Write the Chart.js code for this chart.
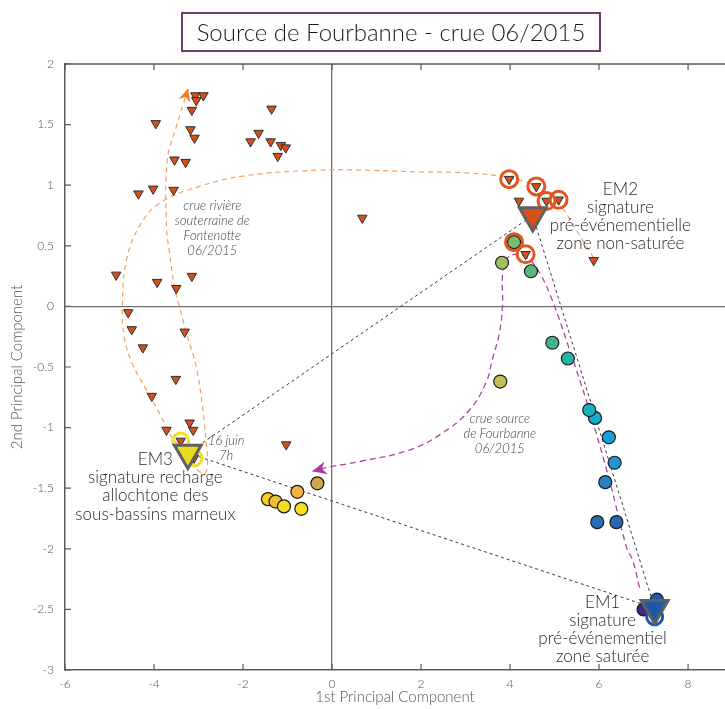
<!DOCTYPE html>
<html>
<head>
<meta charset="utf-8">
<title>Source de Fourbanne - crue 06/2015</title>
<script src="https://cdn.jsdelivr.net/npm/chart.js@4.4.0/dist/chart.umd.min.js"></script>
<style>
  html, body { margin: 0; padding: 0; background: #fff; }
</style>
</head>
<body>
<canvas id="pcaChart" width="725" height="709"></canvas>
<script>
// ---------- axes ----------
const xTicks = [-6, -4, -2, 0, 2, 4, 6, 8];
const yTicks = [-3, -2.5, -2, -1.5, -1, -0.5, 0, 0.5, 1, 1.5, 2];
const xRange = [-6, 8.83];
const yRange = [-3, 2];

// ---------- Fontenotte samples (small triangles) ----------
const fontenotteX = [-3.07, -2.89, -3.05, -3.15, -3.96, -3.18, -3.09, -1.36, -1.65, -1.83, -1.38, -1.15, -1.04, -1.22,
  -3.54, -3.29, -4.02, -4.35, -3.56, -4.85, -3.93, -3.50, -3.15, -4.58, -4.50, -3.31, -4.25, -3.51, -4.05, -3.72,
  -3.20, -3.12, -3.40, -3.10, -1.03, 0.68, 4.20, 3.98, 4.59, 4.82, 5.09, 4.35, 5.88];
const fontenotteY = [1.74, 1.74, 1.70, 1.62, 1.51, 1.46, 1.39, 1.63, 1.43, 1.36, 1.36, 1.33, 1.31, 1.24,
  1.21, 1.19, 0.97, 0.93, 0.96, 0.26, 0.20, 0.15, 0.25, -0.05, -0.19, -0.21, -0.34, -0.60, -0.74, -1.02,
  -0.96, -1.02, -1.11, -1.25, -1.14, 0.73, 0.87, 1.05, 0.99, 0.87, 0.88, 0.43, 0.38];

// ---------- Fourbanne samples (circles) ----------
const fourbanneX = [7.00, 7.30, 5.96, 6.39, 6.14, 6.35, 6.22, 5.91, 5.78, 5.30, 4.95, 4.47, 4.09, 3.82, 3.78,
  -0.33, -0.78, -1.44, -1.27, -1.08, -0.69];
const fourbanneY = [-2.50, -2.42, -1.78, -1.78, -1.45, -1.29, -1.08, -0.92, -0.855, -0.43, -0.30, 0.29, 0.53, 0.36, -0.62,
  -1.46, -1.53, -1.59, -1.61, -1.65, -1.67];
const fourbanneColors = ['#3a2c7e', '#1b5ca9', '#2a6cb8', '#2a66b2', '#2a80c6', '#2592d2', '#1aa0d6', '#18a9cc',
  '#1ab2bd', '#22b4a4', '#40b38c', '#5cb57c', '#7bbd6a', '#a0bf60', '#c4be58',
  '#cba850', '#f2b43c', '#f7cf22', '#f2bd2c', '#f2dd20', '#f2e220'];

// ---------- highlighted samples (rings) ----------
const orangeRingX = [3.98, 4.59, 4.82, 5.09, 4.35, 4.09];
const orangeRingY = [1.05, 0.99, 0.87, 0.88, 0.43, 0.53];
const yellowRingX = [-3.40, -3.10];
const yellowRingY = [-1.11, -1.25];
const blueRingX = [7.25];
const blueRingY = [-2.56];

// ---------- end members EM1, EM2, EM3 ----------
const emNames = ['EM1', 'EM2', 'EM3'];
const emX = [7.25, 4.51, -3.24];
const emY = [-2.49, 0.75, -1.21];
const emColors = ['#1d5aa6', '#d4521a', '#e6dc1e'];

// ---------- flood paths (hand drawn curves) ----------
const fontenottePathX = [5.88, 5.52, 5.11, 4.59, 3.99, 3.09, 1.96, 0.62, -0.28, -1.92, -2.98, -3.88, -4.33, -4.62,
  -4.71, -4.67, -4.49, -4.17, -3.88, -3.65, -3.36, -3.07, -2.87, -2.80, -2.82, -2.91, -3.05, -3.27, -3.43,
  -3.54, -3.65, -3.72, -3.70, -3.50, -3.23];
const fontenottePathY = [0.40, 0.61, 0.84, 0.99, 1.06, 1.10, 1.11, 1.125, 1.125, 1.08, 0.99, 0.85, 0.66, 0.38,
  0.01, -0.25, -0.47, -0.69, -0.88, -1.05, -1.19, -1.33, -1.38, -1.31, -1.16, -0.83, -0.50, -0.22, 0.00,
  0.16, 0.44, 0.66, 1.21, 1.48, 1.80];
const fourbannePathX = [6.91, 6.75, 6.62, 6.23, 5.78, 5.34, 4.95, 4.66, 4.39, 4.10, 3.90, 3.83, 3.83, 3.76,
  3.60, 3.47, 3.09, 2.48, 1.74, 0.62, -0.06, -0.44];
const fourbannePathY = [-2.32, -2.09, -1.99, -1.43, -0.855, -0.36, 0.05, 0.28, 0.40, 0.43, 0.38, 0.26, 0.01, -0.22,
  -0.44, -0.62, -0.855, -1.045, -1.185, -1.28, -1.325, -1.36];

const pts = (xs, ys) => xs.map((x, i) => ({ x: x, y: ys[i] }));

// mixing triangle between the end members
const mixPairs = [[2, 1], [2, 0], [1, 0]];
const mixSets = mixPairs.map(p => ({
  data: [{ x: emX[p[0]], y: emY[p[0]] }, { x: emX[p[1]], y: emY[p[1]] }],
  showLine: true, pointRadius: 0, borderColor: '#3a3a3a', borderWidth: 1, borderDash: [3, 3], order: 12
}));

// text notes (anchored in data units)
const notes = [
  { lines: ['crue rivière', 'souterraine de', 'Fontenotte', '06/2015'], x: -2.69, y: 0.83, font: 'italic 300 13px Lato', color: '#444', lh: 14.9 },
  { lines: ['crue source', 'de Fourbanne', '06/2015'], x: 3.77, y: -0.93, font: 'italic 300 13px Lato', color: '#444', lh: 15 },
  { lines: ['16 juin', '7h'], x: -2.38, y: -1.11, font: 'italic 300 13px Lato', color: '#444', lh: 14.7 },
  { lines: ['EM3', 'signature recharge', 'allochtone des', 'sous-bassins marneux'], x: -3.97, y: -1.26, font: '300 17px Lato', color: '#2a2a2a', lh: 18.4 },
  { lines: ['EM2', 'signature', 'pré-événementielle', 'zone non-saturée'], x: 6.48, y: 0.966, font: '300 17px Lato', color: '#2a2a2a', lh: 18 },
  { lines: ['EM1', 'signature', 'pré-événementiel', 'zone saturée'], x: 6.08, y: -2.44, font: '300 17px Lato', color: '#2a2a2a', lh: 18 }
];

function arrowHead(ctx, fx, fy, tx, ty, len, half, color) {
  const a = Math.atan2(ty - fy, tx - fx);
  ctx.save();
  ctx.translate(tx, ty);
  ctx.rotate(a);
  ctx.beginPath();
  ctx.moveTo(0, 0);
  ctx.lineTo(-len, -half);
  ctx.lineTo(-len * 0.7, 0);
  ctx.lineTo(-len, half);
  ctx.closePath();
  ctx.fillStyle = color;
  ctx.fill();
  ctx.restore();
}

const decor = {
  id: 'decor',
  afterDatasetsDraw(chart) {
    const ctx = chart.ctx;
    const xs = chart.scales.x, ys = chart.scales.y;
    // arrow heads at the end of both flood paths
    let n = fontenottePathX.length;
    arrowHead(ctx, xs.getPixelForValue(fontenottePathX[n - 2]), ys.getPixelForValue(fontenottePathY[n - 2]),
      xs.getPixelForValue(fontenottePathX[n - 1]), ys.getPixelForValue(fontenottePathY[n - 1]), 13, 6, '#ef7f30');
    n = fourbannePathX.length;
    arrowHead(ctx, xs.getPixelForValue(fourbannePathX[n - 2]), ys.getPixelForValue(fourbannePathY[n - 2]),
      xs.getPixelForValue(fourbannePathX[n - 1]), ys.getPixelForValue(fourbannePathY[n - 1]), 14, 6.5, '#a83a9c');
    // notes
    ctx.save();
    ctx.textAlign = 'center';
    ctx.textBaseline = 'middle';
    notes.forEach(nt => {
      ctx.font = nt.font;
      ctx.fillStyle = nt.color;
      const px = xs.getPixelForValue(nt.x), py = ys.getPixelForValue(nt.y);
      nt.lines.forEach((l, i) => ctx.fillText(l, px, py + i * nt.lh));
    });
    ctx.restore();
  },
  afterDraw(chart) {
    const ctx = chart.ctx;
    const a = chart.chartArea;
    const xs = chart.scales.x, ys = chart.scales.y;
    ctx.save();
    ctx.strokeStyle = '#5a5a5a';
    ctx.lineWidth = 1.5;
    ctx.beginPath();
    ctx.moveTo(a.left, a.top);
    ctx.lineTo(a.right, a.top);
    ctx.stroke();
    // inward tick marks
    ctx.lineWidth = 1.2;
    ctx.beginPath();
    xTicks.forEach(v => {
      const p = xs.getPixelForValue(v);
      ctx.moveTo(p, a.bottom); ctx.lineTo(p, a.bottom - 6);
      ctx.moveTo(p, a.top); ctx.lineTo(p, a.top + 6);
    });
    yTicks.forEach(v => {
      const p = ys.getPixelForValue(v);
      ctx.moveTo(a.left, p); ctx.lineTo(a.left + 6, p);
    });
    ctx.stroke();
    // title box
    ctx.strokeStyle = '#6e4068';
    ctx.lineWidth = 2;
    ctx.strokeRect(182, 13, 418, 38);
    ctx.fillStyle = '#1a1a1a';
    ctx.font = '300 24px Lato';
    ctx.textAlign = 'center';
    ctx.textBaseline = 'middle';
    ctx.fillText('Source de Fourbanne - crue 06/2015', 391, 33);
    ctx.restore();
  }
};

const zeroGrid = {
  display: true,
  drawTicks: false,
  lineWidth: 1.3,
  color: c => (c.tick && c.tick.value === 0 ? '#6e6e6e' : 'rgba(0,0,0,0)')
};

new Chart(document.getElementById('pcaChart'), {
  type: 'scatter',
  data: {
    datasets: [
      {
        label: 'End members', data: pts(emX, emY), pointStyle: 'triangle', rotation: 180, pointRadius: 15.5,
        backgroundColor: emColors, borderColor: '#606060', borderWidth: 3, order: 1
      },
      {
        label: 'Blue ring', data: pts(blueRingX, blueRingY), pointRadius: 8, backgroundColor: 'rgba(0,0,0,0)',
        borderColor: '#1d5aa6', borderWidth: 3, order: 2
      },
      {
        label: 'Yellow ring', data: pts(yellowRingX, yellowRingY), pointRadius: 8, backgroundColor: 'rgba(0,0,0,0)',
        borderColor: '#ece22a', borderWidth: 3, order: 2
      },
      {
        label: 'Orange ring', data: pts(orangeRingX, orangeRingY), pointRadius: 8.5, backgroundColor: 'rgba(0,0,0,0)',
        borderColor: '#e0561e', borderWidth: 3, order: 3
      },
      {
        label: 'Fontenotte', data: pts(fontenotteX, fontenotteY), pointStyle: 'triangle', rotation: 180, pointRadius: 5.5,
        backgroundColor: '#d2501c', borderColor: '#2e2e2e', borderWidth: 1, order: 4
      },
      {
        label: 'Fourbanne', data: pts(fourbanneX, fourbanneY), pointRadius: 6.5,
        backgroundColor: fourbanneColors, borderColor: '#1a1a1a', borderWidth: 1.2, order: 5
      },
      {
        label: 'Fontenotte path', data: pts(fontenottePathX, fontenottePathY), showLine: true, pointRadius: 0,
        borderColor: '#f4a062', borderWidth: 1.2, borderDash: [5, 4], tension: 0.4, order: 10
      },
      {
        label: 'Fourbanne path', data: pts(fourbannePathX, fourbannePathY), showLine: true, pointRadius: 0,
        borderColor: '#b3449f', borderWidth: 1.3, borderDash: [6, 4], tension: 0.4, order: 10
      },
      ...mixSets
    ]
  },
  options: {
    responsive: false,
    animation: false,
    events: [],
    layout: { autoPadding: false, padding: { top: 64, right: 0, left: 0, bottom: 0 } },
    plugins: { legend: { display: false }, tooltip: { enabled: false } },
    scales: {
      x: {
        type: 'linear', min: xRange[0], max: xRange[1],
        afterBuildTicks: s => { s.ticks = xTicks.map(v => ({ value: v })); },
        afterFit: s => { s.height = 39; s.paddingRight = 0; s.paddingLeft = 0; },
        grid: zeroGrid,
        border: { display: true, color: '#5a5a5a', width: 1.5 },
        ticks: { padding: 7, color: '#555', font: { family: 'Lato', size: 12, weight: '300' }, autoSkip: false, maxRotation: 0, callback: v => String(v) },
        title: { display: true, text: '1st Principal Component', color: '#555', font: { family: 'Lato', size: 15, weight: '300' }, padding: { top: 0, bottom: 3 } }
      },
      y: {
        type: 'linear', min: yRange[0], max: yRange[1],
        afterBuildTicks: s => { s.ticks = yTicks.map(v => ({ value: v })); },
        afterFit: s => { s.width = 65; s.paddingTop = 0; s.paddingBottom = 0; },
        grid: zeroGrid,
        border: { display: true, color: '#5a5a5a', width: 1.5 },
        ticks: { padding: 11, color: '#555', font: { family: 'Lato', size: 12, weight: '300' }, autoSkip: false, callback: v => String(v) },
        title: { display: true, text: '2nd Principal Component', color: '#555', font: { family: 'Lato', size: 15, weight: '300' }, padding: { top: 8, bottom: 0 } }
      }
    }
  },
  plugins: [decor]
});
</script>
</body>
</html>
